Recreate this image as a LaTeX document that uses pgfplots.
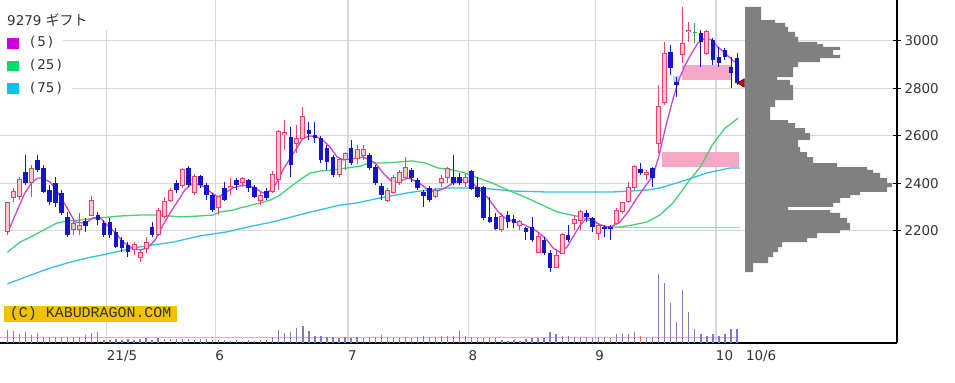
\documentclass[border=0pt]{standalone}
\usepackage{pgfplots}
\pgfplotsset{compat=1.18}
\usepackage{pgfplotstable}
\usepackage{fontspec}
\setmainfont{DejaVu Sans}
\newfontfamily\cjk{Noto Sans CJK JP}
\newfontfamily\kabumono{Liberation Mono}
\definecolor{gridc}{HTML}{D8D8D8}
\definecolor{labc}{HTML}{333333}
\definecolor{cblue}{HTML}{1414C8}
\definecolor{cred}{HTML}{E8406A}
\definecolor{cpink}{HTML}{F9C6D3}
\definecolor{cgreen}{HTML}{30A040}
\definecolor{maA}{HTML}{C844D8}
\definecolor{maB}{HTML}{44D074}
\definecolor{maC}{HTML}{34C0E2}
\definecolor{legA}{HTML}{CC00DD}
\definecolor{legB}{HTML}{00DC66}
\definecolor{legC}{HTML}{00C8E6}
\definecolor{zone}{HTML}{F4A8C6}
\definecolor{zoneblue}{HTML}{B8D4F2}
\definecolor{prof}{HTML}{808080}
\definecolor{volc}{HTML}{7C7CC4}
\definecolor{volred}{HTML}{E86A6A}
\definecolor{volavg}{HTML}{F0A8C8}
\definecolor{kabu}{HTML}{F2C200}

\pgfplotstableread{
i o h l c
0 2195 2321 2182 2317
1 2338 2380 2321 2363
2 2342 2426 2329 2414
4 2401 2477 2342 2464
11 2203 2254 2182 2232
12 2203 2275 2182 2224
14 2266 2346 2262 2329
21 2119 2152 2098 2140
22 2089 2119 2068 2110
23 2127 2174 2106 2152
25 2182 2296 2178 2283
26 2258 2342 2254 2321
27 2329 2380 2321 2371
29 2392 2464 2380 2456
31 2359 2439 2350 2430
35 2296 2346 2266 2342
37 2380 2422 2350 2388
39 2401 2426 2384 2418
42 2329 2363 2308 2350
44 2363 2451 2359 2435
45 2414 2624 2371 2616
46 2603 2666 2540 2612
48 2569 2645 2527 2590
49 2590 2721 2582 2679
55 2435 2506 2426 2498
56 2498 2531 2456 2527
58 2506 2561 2481 2540
59 2515 2561 2498 2544
63 2329 2380 2321 2371
64 2359 2435 2355 2422
65 2401 2456 2392 2443
66 2426 2510 2422 2468
71 2342 2380 2338 2371
72 2401 2435 2384 2418
73 2422 2468 2401 2460
76 2405 2443 2384 2426
82 2203 2275 2195 2258
85 2220 2245 2203 2237
88 2110 2190 2106 2174
91 2047 2119 2043 2094
92 2106 2190 2102 2182
94 2232 2266 2203 2249
95 2245 2287 2203 2279
98 2190 2224 2161 2220
101 2232 2296 2224 2287
102 2279 2321 2270 2317
103 2321 2405 2317 2384
104 2380 2477 2371 2472
106 2435 2456 2414 2447
108 2569 2813 2527 2721
109 2738 2995 2729 2948
112 2940 3142 2906 2990
113 3037 3079 2995 3045
116 2948 3045 2940 3037
}\upc

\pgfplotstableread{
i o h l c
3 2447 2519 2392 2401
5 2498 2519 2447 2456
6 2464 2477 2359 2363
7 2371 2392 2308 2321
8 2401 2426 2300 2317
9 2359 2371 2266 2275
10 2258 2279 2174 2182
13 2241 2254 2195 2220
15 2266 2279 2224 2245
16 2232 2245 2174 2182
17 2237 2254 2169 2182
18 2195 2211 2127 2131
19 2161 2174 2110 2127
20 2140 2152 2089 2110
24 2216 2237 2174 2182
28 2401 2414 2359 2371
30 2464 2472 2384 2392
32 2430 2435 2380 2392
33 2392 2401 2329 2350
34 2350 2359 2279 2287
36 2380 2405 2325 2329
38 2414 2422 2371 2392
40 2414 2418 2363 2380
41 2384 2392 2338 2342
43 2367 2380 2329 2338
47 2595 2637 2426 2477
50 2624 2658 2582 2607
51 2603 2658 2569 2590
52 2590 2599 2485 2498
53 2548 2561 2456 2489
54 2510 2519 2426 2435
57 2548 2582 2477 2485
60 2519 2527 2456 2464
61 2468 2477 2392 2401
62 2388 2401 2329 2350
67 2456 2464 2405 2422
68 2414 2422 2371 2380
69 2363 2371 2300 2346
70 2380 2388 2321 2329
74 2426 2519 2392 2401
75 2426 2443 2392 2401
77 2451 2456 2371 2376
78 2384 2426 2338 2342
79 2384 2388 2245 2254
80 2258 2342 2232 2237
81 2258 2275 2203 2207
83 2266 2283 2211 2237
84 2249 2266 2211 2232
86 2211 2216 2161 2195
87 2216 2258 2152 2161
89 2161 2174 2098 2106
90 2106 2119 2026 2043
93 2182 2224 2152 2161
96 2275 2287 2237 2258
97 2254 2258 2195 2216
99 2216 2224 2174 2207
100 2216 2224 2161 2211
105 2460 2485 2435 2443
107 2464 2468 2384 2422
110 2952 2982 2856 2885
111 2826 2847 2763 2813
115 3032 3045 2889 2995
117 3003 3011 2898 2919
118 2931 2974 2889 2906
119 2961 2969 2919 2931
120 2889 2931 2801 2864
121 2927 2948 2813 2822
}\downc

\pgfplotstableread{
i o h l c
114 3035 3075 2990 3035
}\evenc

\pgfplotstableread{
i v
0 130
1 120
3 110
4 80
5 100
6 60
7 60
8 60
9 60
10 60
11 60
12 60
13 80
14 100
15 110
16 30
17 30
18 40
19 30
20 40
21 30
22 40
23 50
24 30
25 50
26 40
27 40
28 40
29 40
30 40
31 30
32 40
33 40
34 30
35 30
36 30
37 20
38 30
39 20
40 30
41 20
42 30
43 30
44 60
45 130
46 100
47 110
48 150
49 170
50 120
51 70
52 70
53 60
54 60
55 50
56 60
57 50
58 60
59 50
60 60
61 60
62 80
64 50
65 50
66 60
67 50
68 60
69 70
70 60
71 60
72 70
73 70
74 70
75 120
76 70
77 60
78 50
79 50
80 50
81 50
82 30
83 20
84 30
85 20
86 40
87 50
88 50
89 50
90 110
91 90
92 70
93 70
94 60
95 60
96 60
97 50
98 60
99 60
100 50
101 90
102 90
103 90
104 110
106 60
107 60
108 690
109 600
110 400
111 210
112 530
113 310
114 140
115 90
116 70
117 90
118 70
119 90
120 140
121 140
}\vol

\pgfplotstableread{
i v
2 90
63 60
105 70
}\volr

\pgfplotsset{candle/.style={forget plot, draw=none, mark=none,
  error bars/.cd, y dir=both, y explicit, error mark=none}}

\begin{document}
\begin{tikzpicture}
\path[use as bounding box] (0,0) rectangle (955bp,383bp);
% ---------------- price axis
\begin{axis}[
  at={(0,40bp)}, anchor=south west, scale only axis,
  width=897bp, height=343bp,
  xmin=-1.227, xmax=147.53, ymin=1727.2, ymax=3171.4,
  axis x line*=bottom, axis y line*=right,
  axis line style={black, line width=1.6bp},
  xtick={16.5,34.5,56.5,76.5,97.5,117.5},
  xticklabels={21/5,6,7,8,9,10},
  extra x ticks={122.5}, extra x tick labels={10/6},
  extra x tick style={grid=none},
  xtick style={draw=none},
  xticklabel style={anchor=north west, xshift=-3.5bp, yshift=0bp, font=\fontsize{13.5}{14}\selectfont, text=labc},
  ytick={2200,2400,2600,2800,3000},
  yticklabels={2200,2400,2600,2800,3000},
  yticklabel style={font=\fontsize{13.5}{14}\selectfont, text=labc},
  ytick style={draw=black, line width=1bp},
  tick align=center, major tick length=8bp,
  grid=major, major grid style={draw=gridc, line width=1.2bp},
]
% zones
\addplot[fill=zone, draw=none, forget plot] coordinates {(111.9,2835)(120,2835)(120,2898)(111.9,2898)} -- cycle;
\addplot[fill=zone, draw=none, forget plot] coordinates {(108.5,2468)(121.3,2468)(121.3,2531)(108.5,2531)} -- cycle;
\addplot[draw=zone, line width=1bp, forget plot] coordinates {(100.8,2215)(121.5,2215)};
\addplot[fill=zoneblue, draw=none, forget plot] coordinates {(110.4,2826)(111.6,2826)(111.6,2851)(110.4,2851)} -- cycle;
% moving averages
\addplot[maC, line width=1.3bp, forget plot] coordinates {(0,1976)(2.6,2001)(7.1,2043)(9.9,2064)(13.2,2085)(16.5,2102)(20.8,2127)(24.1,2140)(27.5,2152)(31.9,2178)(36.4,2195)(39.9,2216)(44.0,2237)(49.7,2275)(55.2,2308)(58.0,2317)(61.8,2338)(66.3,2359)(69.6,2371)(72.9,2380)(77.2,2380)(80.0,2376)(83.9,2367)(89.5,2363)(95.0,2363)(100.4,2363)(106.1,2371)(108.2,2380)(111.5,2405)(116.0,2443)(119.8,2464)(121.5,2464)};
\addplot[maB, line width=1.3bp, forget plot] coordinates {(0,2110)(2.1,2152)(4.2,2178)(6.6,2211)(8.2,2232)(9.9,2241)(12.0,2245)(15.4,2254)(18.7,2262)(22.0,2266)(25.3,2266)(28.6,2258)(31.9,2262)(34.1,2266)(35.3,2279)(37.4,2287)(38.6,2296)(39.9,2304)(41.9,2317)(43.6,2329)(45.2,2350)(46.9,2384)(48.5,2414)(50.2,2443)(51.8,2451)(54.0,2456)(56.3,2464)(58.5,2472)(60.1,2485)(62.6,2485)(64.8,2489)(67.1,2494)(69.3,2485)(71.4,2464)(73.7,2456)(75.9,2443)(78.0,2422)(80.4,2401)(83.0,2371)(85.8,2342)(88.7,2308)(91.1,2280)(92.8,2270)(95.0,2258)(97.1,2237)(99.4,2216)(101.6,2216)(103.7,2224)(106.1,2237)(108.2,2266)(110.4,2317)(112.9,2405)(114.9,2468)(116.9,2561)(119.0,2632)(121.2,2674)};
\addplot[maA, line width=1.3bp, forget plot] coordinates {(0,2190)(2.9,2359)(4.1,2405)(5.1,2422)(5.7,2422)(7.1,2405)(8.4,2359)(9.9,2296)(11.2,2237)(12.9,2232)(14.2,2254)(15.4,2254)(16.5,2224)(17.8,2195)(19.2,2152)(20.7,2127)(22.0,2119)(23.2,2127)(24.5,2161)(25.8,2224)(27.3,2287)(28.6,2338)(29.4,2371)(30.8,2401)(32.4,2388)(33.9,2359)(34.9,2342)(36.1,2359)(37.4,2380)(39.1,2392)(40.7,2384)(42.4,2359)(43.9,2371)(44.7,2405)(45.7,2456)(46.9,2506)(48.0,2548)(49.0,2590)(50.2,2599)(51.3,2595)(52.3,2582)(53.5,2552)(54.7,2510)(55.7,2498)(56.8,2502)(58.0,2506)(59.0,2510)(60.1,2498)(61.0,2485)(62.3,2443)(63.8,2405)(64.8,2405)(66.4,2422)(68.1,2405)(69.8,2371)(70.9,2363)(72.6,2380)(73.9,2401)(75.4,2414)(77.0,2405)(78.4,2371)(79.7,2338)(81.4,2279)(82.5,2254)(84.2,2237)(85.8,2224)(87.5,2203)(89.2,2169)(90.5,2127)(91.6,2110)(92.8,2131)(93.8,2174)(95.0,2224)(96.1,2254)(97.1,2245)(98.3,2224)(99.6,2216)(100.4,2220)(101.6,2237)(102.9,2279)(104.4,2338)(105.7,2384)(107.0,2430)(107.9,2500)(109.1,2630)(110.2,2738)(111.2,2826)(112.4,2898)(113.5,2948)(114.5,2990)(115.7,3011)(116.8,3003)(117.8,2974)(119.0,2948)(120.2,2919)(121.0,2906)};
% down candles
\addplot[candle, error bar style={draw=cblue, line width=1bp}]
  table[x=i, y expr={(\thisrow{h}+\thisrow{l})/2}, y error expr={(\thisrow{h}-\thisrow{l})/2}] {\downc};
\addplot[candle, error bar style={draw=cblue, line width=4.6bp}]
  table[x=i, y expr={(\thisrow{o}+\thisrow{c})/2}, y error expr={max(abs(\thisrow{o}-\thisrow{c})/2,2.5)}] {\downc};
% up candles
\addplot[candle, error bar style={draw=cred, line width=1bp}]
  table[x=i, y expr={(\thisrow{h}+\thisrow{l})/2}, y error expr={(\thisrow{h}-\thisrow{l})/2}] {\upc};
\addplot[candle, error bar style={draw=cred, line width=5bp}]
  table[x=i, y expr={(\thisrow{o}+\thisrow{c})/2}, y error expr={abs(\thisrow{o}-\thisrow{c})/2+2.1}] {\upc};
\addplot[candle, error bar style={draw=cpink, line width=3bp}]
  table[x=i, y expr={(\thisrow{o}+\thisrow{c})/2}, y error expr={max(abs(\thisrow{o}-\thisrow{c})/2-2.1,0)}] {\upc};
% unchanged candle
\addplot[candle, error bar style={draw=cgreen, line width=1bp}]
  table[x=i, y expr={(\thisrow{h}+\thisrow{l})/2}, y error expr={(\thisrow{h}-\thisrow{l})/2}] {\evenc};
\addplot[candle, error bar style={draw=cgreen, line width=4.6bp}]
  table[x=i, y=o, y error expr={2.5}] {\evenc};
% current price marker
\addplot[forget plot, only marks, mark=triangle*, mark size=4.5bp,
  mark options={rotate=90, fill=red!85!black, draw=red!40!black, line width=0.8bp}] coordinates {(121.8,2822)};
\end{axis}
% ---------------- volume profile
\begin{axis}[
  at={(0,40bp)}, anchor=south west, scale only axis,
  width=897bp, height=343bp, hide axis,
  xmin=-745, xmax=152, ymin=1727.2, ymax=3171.4,
]
\addplot[xbar interval, fill=prof, draw=none] coordinates {
(8,2026) (23,2064) (28,2089) (33,2110) (37,2131) (62,2152) (72,2169) (95,2190) (105,2203) (102,2232)
(95,2254) (85,2275) (43,2287) (88,2300) (95,2317) (105,2338) (115,2350) (142,2363) (147,2384) (142,2401)
(135,2422) (128,2443) (122,2456) (92,2468) (68,2485) (62,2510) (55,2531) (53,2552) (65,2582) (60,2611)
(50,2632) (43,2653) (25,2666) (30,2721) (48,2750) (45,2813) (32,2835) (48,2847) (53,2889) (75,2910)
(95,2927) (88,2940) (95,2961) (78,2974) (72,2986) (53,2995) (50,3016) (43,3037) (40,3058) (30,3075)
(16,3087) (16,3142)};
\end{axis}
% ---------------- volume
\begin{axis}[
  at={(0,40bp)}, anchor=south west, scale only axis,
  width=897bp, height=343bp, hide axis,
  xmin=-1.227, xmax=147.53, ymin=0, ymax=3430,
]
\addplot[draw=volavg, line width=1bp] coordinates {(-1.2,50)(121.2,50)};
\addplot[ycomb, draw=volc, line width=1.3bp, mark=none] table[x=i, y=v] {\vol};
\addplot[ycomb, draw=volred, line width=1.3bp, mark=none] table[x=i, y=v] {\volr};
\end{axis}
% ---------------- legend and credit
\fill[white] (0,383bp) rectangle (110bp,353bp);
\fill[white] (0,350bp) rectangle (63bp,330bp);
\fill[white] (0,327bp) rectangle (70bp,307bp);
\fill[white] (0,305bp) rectangle (72bp,285bp);
\node[anchor=base west, inner sep=0, text=labc] at (7bp,357bp) {\fontsize{13.5}{14}\selectfont 9279 {\cjk\fontsize{14}{14}\selectfont ギフト}};
\fill[legA] (7bp,344.5bp) rectangle (19bp,334bp);
\fill[legB] (7bp,322.3bp) rectangle (19bp,312.3bp);
\fill[legC] (7bp,300bp) rectangle (19bp,289bp);
\node[anchor=base west, inner sep=0, text=labc] at (30bp,336bp) {\fontsize{13.5}{14}\selectfont (\hspace{2bp}5\hspace{2bp})};
\node[anchor=base west, inner sep=0, text=labc] at (30bp,313bp) {\fontsize{13.5}{14}\selectfont (\hspace{2bp}25\hspace{2bp})};
\node[anchor=base west, inner sep=0, text=labc] at (30bp,290.5bp) {\fontsize{13.5}{14}\selectfont (\hspace{2bp}75\hspace{2bp})};
\node[fill=kabu, minimum width=173bp, minimum height=16bp, inner sep=0, anchor=south west, text=labc,
  font=\kabumono\fontsize{15}{15}\selectfont] at (4bp,61bp) {(C) KABUDRAGON.COM};
\end{tikzpicture}
\end{document}
